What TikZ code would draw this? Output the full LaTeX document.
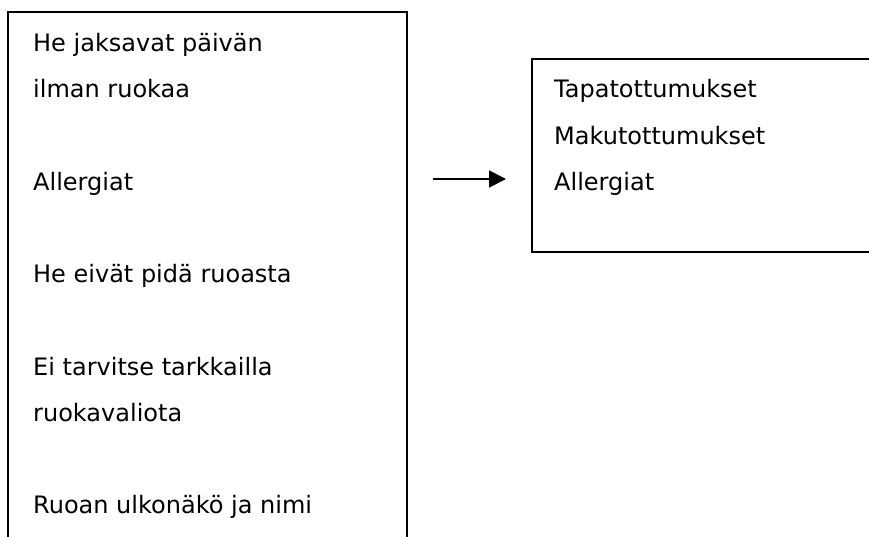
\documentclass[tikz,border=0pt]{standalone}
\usepackage{fontspec}
\setmainfont{DejaVu Sans}
\usetikzlibrary{arrows.meta}
\begin{document}
\begin{tikzpicture}[x=1pt,y=-1pt,
  boxframe/.style={draw=black,line width=1.8pt,inner sep=0pt,anchor=north west},
  txt/.style={anchor=base west,inner sep=0pt,font=\fontsize{24pt}{28pt}\selectfont},
  conn/.style={line width=1.8pt,-{Triangle[length=17pt,width=17pt]},shorten <=25pt,shorten >=25pt}]
\useasboundingbox (0,0) rectangle (869,536);
\node[boxframe,minimum width=399pt,minimum height=560pt] (leftbox) at (7,11) {};
\node[boxframe,minimum width=400pt,minimum height=193pt] (rightbox) at (531,58) {};
\node[txt] (l1) at (33,51) {He jaksavat päivän};
\node[txt] (l2) at (33,97) {ilman ruokaa};
\node[txt] (l3) at (33,190) {Allergiat};
\node[txt] (l4) at (33,282) {He eivät pidä ruoasta};
\node[txt] (l5) at (33,375) {Ei tarvitse tarkkailla};
\node[txt] (l6) at (33,421) {ruokavaliota};
\node[txt] (l7) at (33,513) {Ruoan ulkonäkö ja nimi};
\node[txt] (r1) at (554,97) {Tapatottumukset};
\node[txt] (r2) at (554,144) {Makutottumukset};
\node[txt] (r3) at (554,190) {Allergiat};
\coordinate (afrom) at (leftbox.east |- 0,179);
\coordinate (ato) at (rightbox.west |- 0,179);
\draw[conn] (afrom) -- (ato);
\end{tikzpicture}
\end{document}
